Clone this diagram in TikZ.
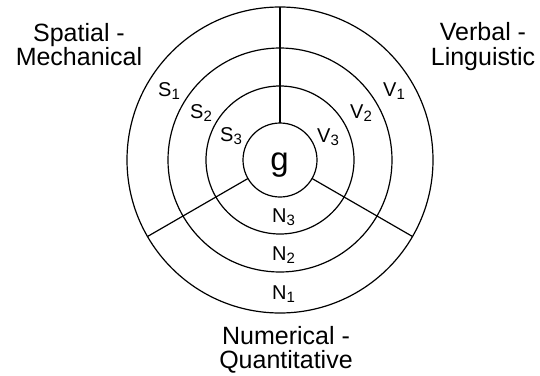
\documentclass[tikz,border=0pt]{standalone}
\usepackage{fontspec}
\setmainfont{Liberation Sans}
\newcommand\lowsub[1]{\raisebox{-3pt}{\fontsize{15}{15}\selectfont #1}}
\tikzset{
  ring/.style={circle, draw, line width=1.2pt, inner sep=0pt, outer sep=0pt},
  divider/.style={line width=1.2pt},
  sublabel/.style={anchor=base west, inner sep=0pt, font=\fontsize{20}{20}\selectfont},
  biglabel/.style={align=center, inner sep=0pt, font=\fontsize{25}{24.5}\selectfont},
  glabel/.style={anchor=base, inner sep=0pt, font=\fontsize{33}{33}\selectfont}
}
\begin{document}
\begin{tikzpicture}[x=1pt, y=-1pt]
\path[use as bounding box] (0,0) rectangle (540,375);
\coordinate (c) at (280,160);
\node[ring, minimum size=306pt] (r1) at (c) {};
\node[ring, minimum size=224pt] (r2) at (c) {};
\node[ring, minimum size=148pt] (r3) at (c) {};
\node[ring, minimum size=74pt] (r4) at (c) {};
\draw[divider] (r4.90) -- (r1.90);
\draw[divider] (r4.210) -- (r1.210);
\draw[divider] (r4.330) -- (r1.330);
\node[glabel] (g) at (279.5,170) {g};
\node[sublabel] (s1) at (158,96) {S\lowsub{1}};
\node[sublabel] (s2) at (190,118) {S\lowsub{2}};
\node[sublabel] (s3) at (220,141) {S\lowsub{3}};
\node[sublabel] (v1) at (383,96) {V\lowsub{1}};
\node[sublabel] (v2) at (350,118) {V\lowsub{2}};
\node[sublabel] (v3) at (317,142) {V\lowsub{3}};
\node[sublabel] (n3) at (272,222) {N\lowsub{3}};
\node[sublabel] (n2) at (272,260) {N\lowsub{2}};
\node[sublabel] (n1) at (272,299) {N\lowsub{1}};
\node[biglabel] (sm) at (79,44.5) {Spatial -\\Mechanical};
\node[biglabel] (vl) at (483,46.5) {Verbal -\\Linguistic};
\node[biglabel] (nq) at (286,350) {Numerical -\\Quantitative};
\end{tikzpicture}
\end{document}
